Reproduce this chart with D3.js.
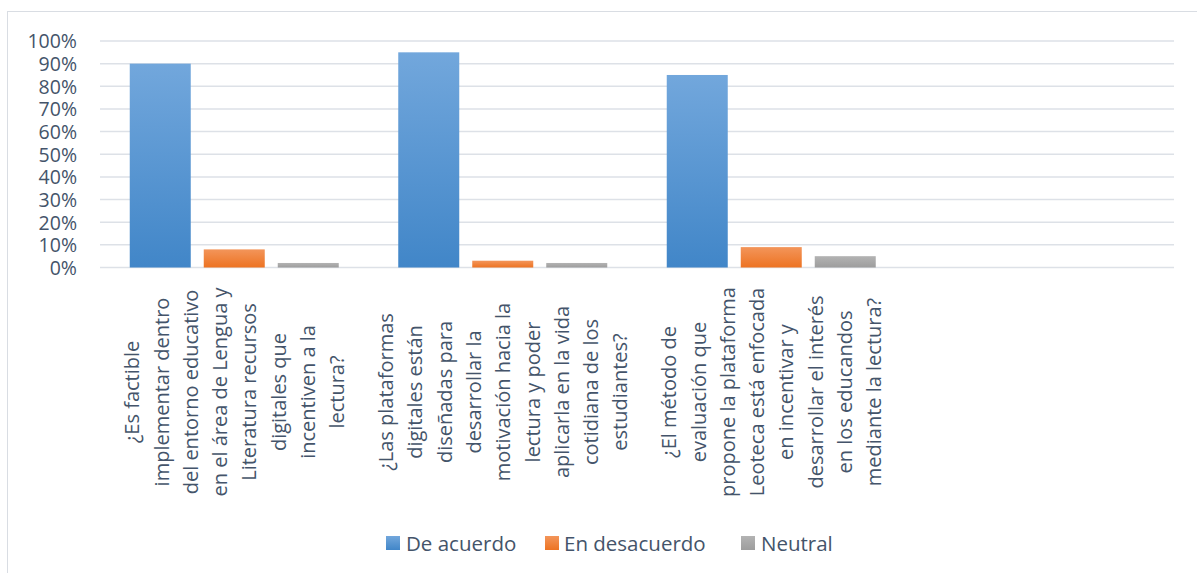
<!DOCTYPE html>
<html>
<head>
<meta charset="utf-8">
<script src="https://cdn.jsdelivr.net/npm/d3@7"></script>
<style>
  body { margin: 0; background: #fff; }
  svg text { font-family: "Open Sans", sans-serif; fill: #44546a; }
</style>
</head>
<body>
<div id="chart"></div>
<script>
// -- data --
const categories = [
  ['¿Es factible', 'implementar dentro', 'del entorno educativo', 'en el área de Lengua y', 'Literatura recursos', 'digitales que', 'incentiven a la', 'lectura?'],
  ['¿Las plataformas', 'digitales están', 'diseñadas para', 'desarrollar la', 'motivación hacia la', 'lectura y poder', 'aplicarla en la vida', 'cotidiana de los', 'estudiantes?'],
  ['¿El método de', 'evaluación que', 'propone la plataforma', 'Leoteca está enfocada', 'en incentivar y', 'desarrollar el interés', 'en los educandos', 'mediante la lectura?'],
  []
];
const seriesNames = ['De acuerdo', 'En desacuerdo', 'Neutral'];
const deAcuerdo = [0.90, 0.95, 0.85];
const enDesacuerdo = [0.08, 0.03, 0.09];
const neutral = [0.02, 0.02, 0.05];
const yTicks = [0, 0.1, 0.2, 0.3, 0.4, 0.5, 0.6, 0.7, 0.8, 0.9, 1.0];

const seriesValues = [deAcuerdo, enDesacuerdo, neutral];
const grads = [
  ['#72a7dc', '#4186c8'],
  ['#f3955a', '#ed7322'],
  ['#b3b3b3', '#9d9d9d']
];

const W = 1197, H = 573;
const plot = { left: 100, right: 1174, top: 41, bottom: 267.5 };

const svg = d3.select('#chart').append('svg')
  .attr('width', W).attr('height', H);

const defs = svg.append('defs');
grads.forEach((g, i) => {
  const lg = defs.append('linearGradient')
    .attr('id', 'grad' + i)
    .attr('x1', 0).attr('y1', 0).attr('x2', 0).attr('y2', 1);
  lg.append('stop').attr('offset', '0%').attr('stop-color', g[0]);
  lg.append('stop').attr('offset', '100%').attr('stop-color', g[1]);
});

// chart border (runs off the right and bottom edges)
svg.append('rect')
  .attr('x', 7.5).attr('y', 11.5)
  .attr('width', W + 10).attr('height', H + 10)
  .attr('fill', 'none')
  .attr('stroke', '#d9dde3')
  .attr('stroke-width', 1);

const x0 = d3.scaleBand()
  .domain(d3.range(categories.length))
  .range([plot.left, plot.right])
  .paddingInner(0).paddingOuter(0);

const x1 = d3.scaleBand()
  .domain(d3.range(seriesNames.length))
  .range([0, x0.bandwidth()])
  .paddingInner(0.1757)
  .paddingOuter(0.402);

const y = d3.scaleLinear().domain([0, 1]).range([plot.bottom, plot.top]);

// gridlines
svg.append('g')
  .selectAll('line')
  .data(yTicks)
  .enter().append('line')
  .attr('x1', plot.left).attr('x2', plot.right)
  .attr('y1', d => y(d)).attr('y2', d => y(d))
  .attr('stroke', '#dde1e7')
  .attr('stroke-width', 1.5);

// y axis labels
const yAxis = d3.axisLeft(y)
  .tickValues(yTicks)
  .tickFormat(d3.format('.0%'))
  .tickSize(0)
  .tickPadding(0);
const yg = svg.append('g')
  .attr('transform', `translate(77,0)`)
  .call(yAxis);
yg.select('.domain').remove();
yg.selectAll('text')
  .attr('font-size', '19.5px')
  .attr('font-family', '"Open Sans", sans-serif')
  .attr('fill', '#44546a')
  .attr('dy', '0.35em');

// bars
const groups = svg.append('g')
  .selectAll('g')
  .data(deAcuerdo.map((_, i) => i))
  .enter().append('g')
  .attr('transform', i => `translate(${x0(i)},0)`);

groups.selectAll('rect')
  .data(i => seriesValues.map((s, j) => ({ s: j, v: s[i] })))
  .enter().append('rect')
  .attr('x', d => x1(d.s))
  .attr('width', x1.bandwidth())
  .attr('y', d => y(d.v))
  .attr('height', d => plot.bottom - y(d.v))
  .attr('fill', d => `url(#grad${d.s})`);

// category labels (rotated, multi-line)
const lineGap = 29.3;
const labelCenterY = 392;
categories.forEach((lines, i) => {
  const cx = x0(i) + x0.bandwidth() / 2;
  const t = svg.append('text')
    .attr('transform', `translate(${cx},${labelCenterY}) rotate(-90)`)
    .attr('text-anchor', 'middle')
    .attr('font-size', '20px');
  lines.forEach((ln, k) => {
    t.append('tspan')
      .attr('x', 0)
      .attr('y', (k - (lines.length - 1) / 2) * lineGap)
      .attr('dominant-baseline', 'central')
      .text(ln);
  });
});

// legend
const legendItems = [
  { x: 386, tx: 406 },
  { x: 545, tx: 564 },
  { x: 741, tx: 761 }
];
const legend = svg.append('g');
seriesNames.forEach((name, i) => {
  legend.append('rect')
    .attr('x', legendItems[i].x).attr('y', 536)
    .attr('width', 14).attr('height', 14)
    .attr('fill', `url(#grad${i})`);
  legend.append('text')
    .attr('x', legendItems[i].tx).attr('y', 543)
    .attr('dominant-baseline', 'central')
    .attr('font-size', '20.5px')
    .text(name);
});
</script>
</body>
</html>
